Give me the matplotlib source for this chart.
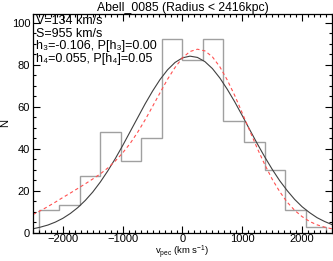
import numpy as np
import matplotlib
matplotlib.use('Agg')
import matplotlib.pyplot as plt
from matplotlib.ticker import MultipleLocator

plt.rcParams['font.family'] = ['Liberation Sans', 'DejaVu Sans']
plt.rcParams['mathtext.default'] = 'regular'

# histogram of peculiar velocities
bin_edges = np.linspace(-2400, 2400, 15)
counts = [11, 13, 27, 48, 34, 45, 92, 82, 92, 53, 43, 30, 11, 3]

# curves (km/s, N), every 125 km/s
curve_v = np.arange(-2500, 2501, 125)
gauss_n = [1.9, 2.7, 3.7, 5.1, 6.9, 9.2, 12.0, 15.4, 19.4, 24.1,
           29.4, 35.2, 41.5, 48.1, 54.7, 61.3, 67.4, 72.9, 77.5, 81.0,
           83.2, 84.0, 83.4, 81.4, 78.1, 73.6, 68.2, 62.2, 55.7, 49.0,
           42.4, 36.1, 30.2, 24.8, 20.1, 15.9, 12.4, 9.6, 7.2, 5.4, 3.9]
gh_n = [8.7, 10.5, 12.5, 14.6, 16.8, 18.9, 21.1, 23.3, 25.6, 28.0,
        30.8, 34.1, 38.0, 42.5, 47.8, 53.7, 60.1, 66.6, 73.0, 78.6,
        83.2, 86.2, 87.3, 86.5, 83.7, 78.9, 72.6, 65.2, 56.9, 48.5,
        40.2, 32.5, 25.5, 19.6, 14.6, 10.7, 7.7, 5.4, 3.8, 2.7, 1.9]

title = 'Abell_0085 (Radius < 2416kpc)'
info = ['V=134 km/s', 'S=955 km/s',
        'h\u2083=-0.106, P[h\u2083]=0.00',
        'h\u2084=0.055, P[h\u2084]=0.05']

fig = plt.figure(figsize=(3.33, 2.61), dpi=100)
ax = fig.add_axes([0.099, 0.108, 0.898, 0.838])

ax.stairs(counts, bin_edges, color='#a0a0a0', lw=1.0)
ax.plot(curve_v, gauss_n, color='#404040', lw=0.8)
ax.plot(curve_v, gh_n, color='#ff5050', lw=0.8, dashes=(3, 2.5))

ax.set_xlim(-2500, 2500)
ax.set_ylim(0, 104)
ax.xaxis.set_major_locator(MultipleLocator(1000))
ax.xaxis.set_minor_locator(MultipleLocator(100))
ax.yaxis.set_major_locator(MultipleLocator(20))
ax.yaxis.set_minor_locator(MultipleLocator(5))
ax.tick_params(which='both', direction='in', top=True, right=True,
               labelsize=8, width=0.8, pad=2)
ax.tick_params(axis='x', pad=1)
ax.tick_params(which='major', length=5)
ax.tick_params(which='minor', length=2.5)
for s in ax.spines.values():
    s.set_linewidth(0.9)

ax.set_title(title, fontsize=8.8, pad=2)
ax.set_xlabel('v$_{pec}$ (km s$^{-1}$)', fontsize=6.8)
ax.set_ylabel('N', fontsize=8)
ax.xaxis.set_label_coords(0.5, -0.05)
ax.yaxis.set_label_coords(-0.078, 0.5)

ax.text(0.01, 0.995, '\n'.join(info), transform=ax.transAxes,
        fontsize=9.0, va='top', ha='left', linespacing=1.05)

fig.savefig('out.png', dpi=100)
